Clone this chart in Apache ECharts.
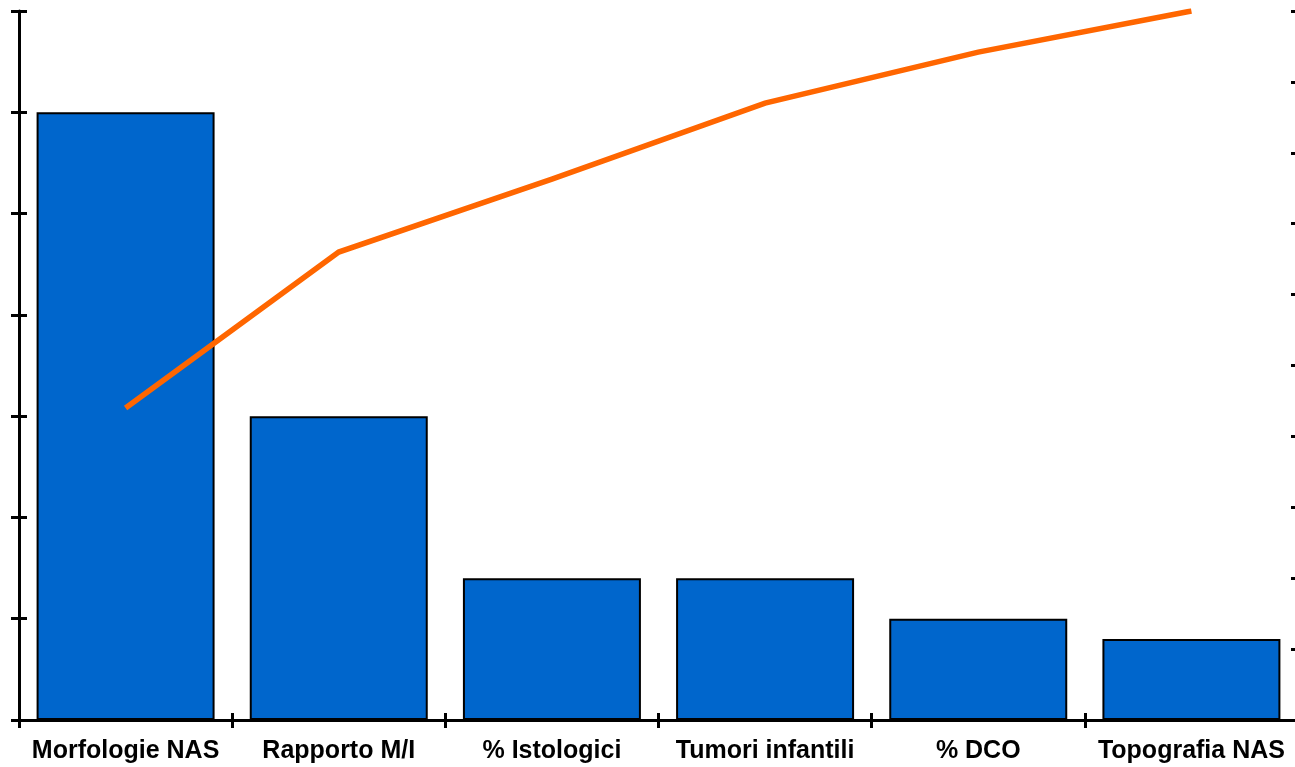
<!DOCTYPE html>
<html>
<head>
<meta charset="utf-8">
<title>Pareto</title>
<script src="https://cdn.jsdelivr.net/npm/echarts@6/dist/echarts.min.js"></script>
<style>
  html, body { margin: 0; padding: 0; background: #ffffff; }
  #chart { width: 1295px; height: 767px; }
</style>
</head>
<body>
<div id="chart"></div>
<script>
// Categories along the horizontal axis
const categories = ['Morfologie NAS', 'Rapporto M/I', '% Istologici', 'Tumori infantili', '% DCO', 'Topografia NAS'];
// Bar heights (left scale, 0–7)
const barValues = [6, 3, 1.4, 1.4, 1, 0.8];
// Cumulative share in percent (right scale, 0–100)
const cumulativePct = [44, 66, 76.3, 87, 94.2, 100];

const chart = echarts.init(document.getElementById('chart'), null, { renderer: 'canvas' });

const black = '#000000';
const tickW = 3;

const option = {
  backgroundColor: '#ffffff',
  animation: false,
  grid: { left: 19, right: -3, top: 11, bottom: 47, outerBoundsMode: 'none' },
  xAxis: [
    {
      type: 'category',
      data: categories,
      boundaryGap: true,
      axisLine: { show: true, lineStyle: { color: black, width: 3 } },
      axisTick: { show: true, inside: false, length: 8, lineStyle: { color: black, width: tickW } },
      axisLabel: {
        show: true, interval: 0, margin: 19, color: black,
        fontFamily: 'Liberation Sans, Arial, sans-serif', fontWeight: 'bold', fontSize: 25
      },
      splitLine: { show: false }
    },
    {
      // duplicate axis carrying the upward half of the crossing ticks
      type: 'category',
      data: categories,
      position: 'bottom',
      boundaryGap: true,
      axisLine: { show: false },
      axisTick: { show: true, inside: true, length: 7, lineStyle: { color: black, width: tickW } },
      axisLabel: { show: false },
      splitLine: { show: false }
    }
  ],
  yAxis: [
    {
      type: 'value', position: 'left', min: 0, max: 7, interval: 1,
      axisLine: { show: true, lineStyle: { color: black, width: 3 } },
      axisTick: { show: true, inside: false, length: 8, lineStyle: { color: black, width: tickW } },
      axisLabel: { show: false },
      splitLine: { show: false }
    },
    {
      type: 'value', position: 'right', min: 0, max: 100, interval: 10,
      axisLine: { show: true, lineStyle: { color: black, width: 3 } },
      axisTick: { show: true, inside: true, length: 7, lineStyle: { color: black, width: tickW } },
      axisLabel: { show: false },
      splitLine: { show: false }
    },
    {
      // inward half of the left crossing ticks
      type: 'value', position: 'left', offset: 0, min: 0, max: 7, interval: 1,
      axisLine: { show: false },
      axisTick: { show: true, inside: true, length: 8, lineStyle: { color: black, width: tickW } },
      axisLabel: { show: false },
      splitLine: { show: false }
    }
  ],
  series: [
    {
      type: 'bar',
      xAxisIndex: 0,
      yAxisIndex: 0,
      data: barValues,
      barCategoryGap: '16.5%',
      itemStyle: { color: '#0066CC', borderColor: black, borderWidth: 2 },
      z: 2
    },
    {
      type: 'line',
      xAxisIndex: 0,
      yAxisIndex: 1,
      data: cumulativePct,
      symbol: 'none',
      lineStyle: { color: '#FF6600', width: 5.5, cap: 'butt', join: 'miter' },
      z: 3
    }
  ]
};

chart.setOption(option);
</script>
</body>
</html>
